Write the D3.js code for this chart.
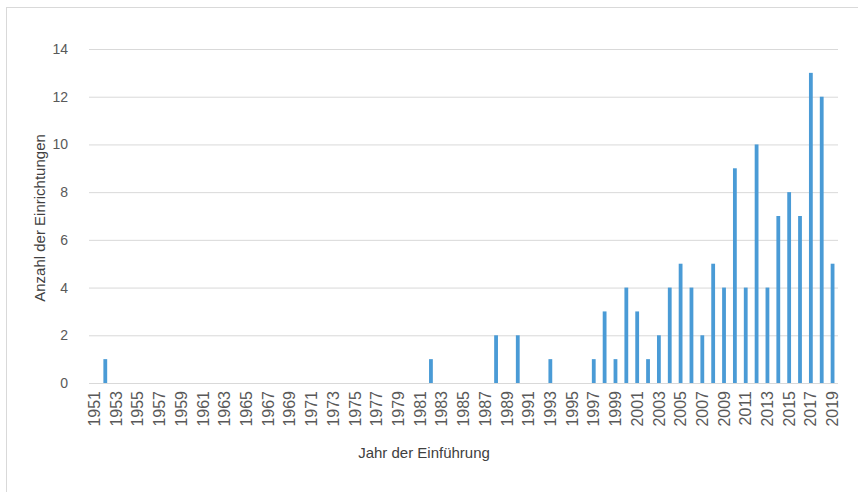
<!DOCTYPE html>
<html><head><meta charset="utf-8">
<script src="https://cdn.jsdelivr.net/npm/d3@7"></script>
<style>body{margin:0;background:#fff}svg{display:block}</style>
</head><body>
<svg id="c" width="858" height="492"></svg>
<script>
const years = d3.range(1951, 2020).map(String);
const values = [
  0,1,0,0,0,0,0,0,0,0,   // 1951-1960
  0,0,0,0,0,0,0,0,0,0,   // 1961-1970
  0,0,0,0,0,0,0,0,0,0,   // 1971-1980
  0,1,0,0,0,0,0,2,0,2,   // 1981-1990
  0,0,1,0,0,0,1,3,1,4,   // 1991-2000
  3,1,2,4,5,4,2,5,4,9,   // 2001-2010
  4,10,4,7,8,7,13,12,5   // 2011-2019
];
const yTicks = [0,2,4,6,8,10,12,14];
const xTickLabels = years.filter((d,i)=>i%2===0);
const xTitle = "Jahr der Einführung";
const yTitle = "Anzahl der Einrichtungen";

const svg = d3.select("#c");
svg.append("rect").attr("x",6.5).attr("y",7.5).attr("width",880).attr("height",500)
  .attr("fill","none").attr("stroke","#d9d9d9");

const m = {l:89, r:838, t:49, b:383};
const x = d3.scaleBand().domain(years).range([m.l, m.r]).paddingInner(0.65).paddingOuter(0.325);
const y = d3.scaleLinear().domain([0,14]).range([m.b, m.t]);

// gridlines
svg.append("g").selectAll("line").data(yTicks).join("line")
  .attr("x1",m.l).attr("x2",m.r)
  .attr("y1",d=>y(d)+0.5).attr("y2",d=>y(d)+0.5)
  .attr("stroke","#d9d9d9").attr("stroke-width",1);

// y labels
const ya = svg.append("g").attr("transform",`translate(${m.l},0)`)
  .call(d3.axisLeft(y).tickValues(yTicks).tickSize(0).tickPadding(21));
ya.select(".domain").remove();
ya.selectAll("text").attr("font-family","Liberation Sans, Arial, sans-serif").attr("font-size",14).attr("fill","#595959");

// bars
const data = years.map((yr,i)=>({yr, v:values[i]}));
svg.append("g").selectAll("rect").data(data.filter(d=>d.v>0)).join("rect")
  .attr("x",d=>x(d.yr))
  .attr("width",x.bandwidth())
  .attr("y",d=>y(d.v)).attr("height",d=>y(0)-y(d.v))
  .attr("fill","#4a9bd6");

// x axis
const xa = svg.append("g").attr("transform",`translate(0,${m.b})`)
  .call(d3.axisBottom(x).tickValues(xTickLabels).tickSize(0).tickPadding(0));
xa.select(".domain").attr("stroke","#d9d9d9").attr("d",`M${m.l},0.5H${m.r}`);
xa.selectAll("text")
  .attr("font-family","Liberation Sans, Arial, sans-serif").attr("font-size",16).attr("fill","#595959")
  .attr("transform","rotate(-90)").attr("text-anchor","end").attr("dy","0.35em")
  .attr("x",-8).attr("y",0);

svg.append("text").attr("x",424).attr("y",458).attr("text-anchor","middle")
  .attr("font-family","Liberation Sans, Arial, sans-serif").attr("font-size",15).attr("fill","#404040")
  .text(xTitle);
svg.append("text").attr("transform","translate(45,218) rotate(-90)").attr("text-anchor","middle")
  .attr("font-family","Liberation Sans, Arial, sans-serif").attr("font-size",15).attr("fill","#404040")
  .text(yTitle);
</script>
</body></html>
